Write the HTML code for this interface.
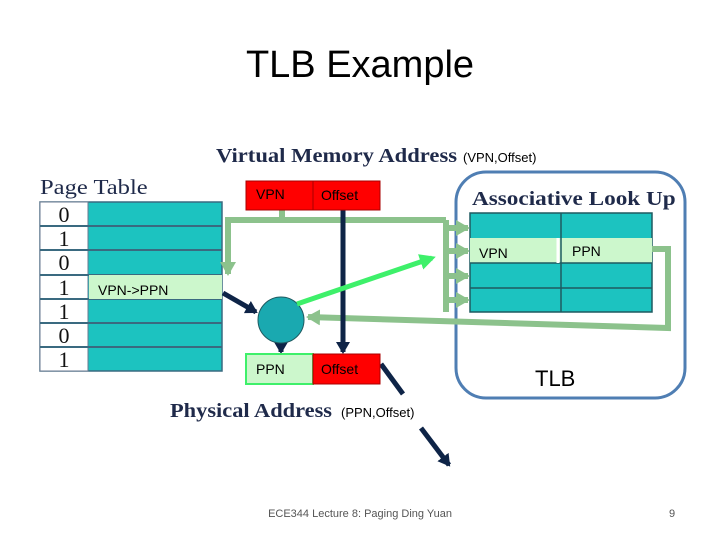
<!DOCTYPE html>
<html><head><meta charset="utf-8"><style>
body{margin:0;width:720px;height:540px;background:#fff;overflow:hidden;position:relative;font-family:"Liberation Sans",sans-serif}
.a{position:absolute}
.serif{font-family:"Liberation Serif",serif;color:#1f2a4a;font-weight:bold;transform-origin:0 0;white-space:nowrap}
</style></head><body>
<div class="a" style="left:0;width:720px;top:44px;text-align:center;font-size:38px;color:#000">TLB Example</div>
<svg class="a" style="left:0;top:0" width="720" height="540">
<defs>
<marker id="g" markerUnits="userSpaceOnUse" markerWidth="14" markerHeight="16" refX="12" refY="8" orient="auto"><path d="M0,0L14,8L0,16z" fill="#8cc28c"/></marker>
<marker id="b" markerUnits="userSpaceOnUse" markerWidth="12" markerHeight="14" refX="10" refY="7" orient="auto"><path d="M0,0L12,7L0,14z" fill="#0e2447"/></marker>
<marker id="bg" markerUnits="userSpaceOnUse" markerWidth="16" markerHeight="16" refX="12" refY="8" orient="auto"><path d="M0,0L16,8L0,16z" fill="#3ef06a"/></marker>
</defs>
<rect x="40" y="202" width="182" height="169" fill="#1cc3c0" stroke="#3a6a80" stroke-width="1.5"/>
<rect x="40" y="202" width="48" height="169" fill="#fff" stroke="#6a7a90"/>
<g stroke="#3a6a80" stroke-width="2">
<line x1="40" y1="226" x2="222" y2="226"/><line x1="40" y1="250" x2="222" y2="250"/><line x1="40" y1="275" x2="222" y2="275"/><line x1="40" y1="299" x2="222" y2="299"/><line x1="40" y1="323" x2="222" y2="323"/><line x1="40" y1="347" x2="222" y2="347"/>
</g>
<rect x="89" y="275" width="133" height="24" fill="#ccf7cc"/>
<g font-family="Liberation Serif,serif" font-size="22" fill="#111" text-anchor="middle">
<text x="64" y="222">0</text><text x="64" y="246">1</text><text x="64" y="270">0</text><text x="64" y="295">1</text><text x="64" y="319">1</text><text x="64" y="343">0</text><text x="64" y="367">1</text></g>
<rect x="456" y="172" width="229" height="226" rx="30" fill="none" stroke="#4f7eb3" stroke-width="3"/>
<rect x="470" y="213" width="182" height="99" fill="#1cc3c0" stroke="#1f5a60" stroke-width="1.5"/>
<rect x="470" y="238" width="182" height="25" fill="#ccf7cc"/>
<g stroke="#1f5a60" stroke-width="1.5"><line x1="470" y1="288" x2="652" y2="288"/><line x1="561" y1="213" x2="561" y2="312"/><line x1="470" y1="263" x2="652" y2="263"/></g>
<line x1="558" y1="238" x2="558" y2="263" stroke="#fff" stroke-width="3"/>
<g stroke="#8cc28c" stroke-width="6" fill="none">
<path d="M282,210V220"/>
<path d="M446,220H228V274" marker-end="url(#g)"/>
<path d="M446,220V312"/>
<path d="M446,228H468" marker-end="url(#g)"/>
<path d="M446,251H468" marker-end="url(#g)"/>
<path d="M446,276H468" marker-end="url(#g)"/>
<path d="M446,300H468" marker-end="url(#g)"/>
<path d="M652,249H668V328L308,317" marker-end="url(#g)"/>
</g>
<g stroke="#0e2447" stroke-width="5" fill="none">
<path d="M223,293L256,312" marker-end="url(#b)"/>
<path d="M343,210V352" marker-end="url(#b)"/>
<path d="M281,340V352" marker-end="url(#b)"/>
<path d="M381,364L403,394"/>
<path d="M421,428L449,465" marker-end="url(#b)"/>
</g>
<circle cx="281" cy="320" r="23" fill="#1aa9b0" stroke="#1f5a60"/>
<path d="M297,304L432,258" stroke="#3ef06a" stroke-width="5" marker-end="url(#bg)"/>
<rect x="246" y="181" width="67" height="29" fill="#f00" stroke="#a00"/>
<rect x="313" y="181" width="67" height="29" fill="#f00" stroke="#a00"/>
<rect x="246" y="354" width="67" height="30" fill="#ccf7cc" stroke="#3ef06a" stroke-width="2"/>
<rect x="313" y="354" width="67" height="30" fill="#f00" stroke="#a00"/>
</svg>
<div class="a serif" style="left:216px;top:145px;font-size:20px;transform:scaleX(1.13)">Virtual Memory Address</div>
<div class="a" style="left:463px;top:150px;font-size:13px">(VPN,Offset)</div>
<div class="a serif" style="left:40px;top:175px;font-size:21px;font-weight:normal;transform:scaleX(1.17)">Page Table</div>
<div class="a serif" style="left:472px;top:188px;font-size:20px;transform:scaleX(1.16)">Associative Look Up</div>
<div class="a serif" style="left:170px;top:400px;font-size:20px;transform:scaleX(1.12)">Physical Address</div>
<div class="a" style="left:341px;top:405px;font-size:13px">(PPN,Offset)</div>
<div class="a" style="left:256px;top:186px;font-size:14px">VPN</div>
<div class="a" style="left:321px;top:187px;font-size:14px">Offset</div>
<div class="a" style="left:256px;top:361px;font-size:14px">PPN</div>
<div class="a" style="left:321px;top:361px;font-size:14px">Offset</div>
<div class="a" style="left:98px;top:282px;font-size:14px">VPN-&gt;PPN</div>
<div class="a" style="left:479px;top:245px;font-size:14px">VPN</div>
<div class="a" style="left:572px;top:243px;font-size:14px">PPN</div>
<div class="a" style="left:535px;top:366px;font-size:22px">TLB</div>
<div class="a" style="left:0;width:720px;top:508px;text-align:center;font-size:11px;color:#555">ECE344 Lecture 8: Paging Ding Yuan</div>
<div class="a" style="left:669px;top:508px;font-size:11px;color:#555">9</div>
</body></html>
